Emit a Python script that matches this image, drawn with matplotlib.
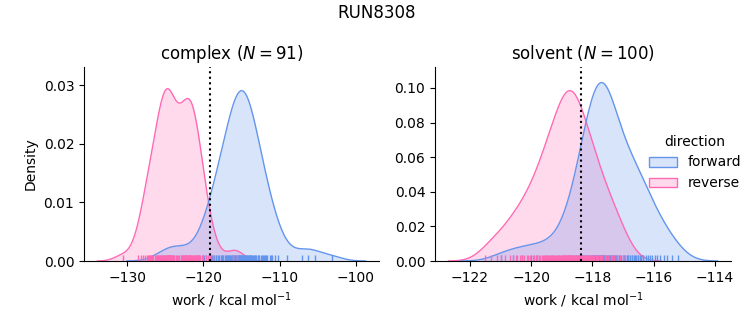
import numpy as np
import matplotlib
matplotlib.use('Agg')
import matplotlib.pyplot as plt
from matplotlib.patches import Patch
import seaborn as sns

run_name = 'RUN8308'
n_runs = 100

complex_forward = [
    -125.6, -124.3, -123.8, -122.9, -121.7,
    -120.1, -119.6, -119.2, -118.9, -118.6, -118.3, -118.1, -117.9, -117.6, -117.4,
    -117.2, -117.0, -116.8, -116.7, -116.5, -116.3, -116.2, -116.0, -115.9, -115.8,
    -115.7, -115.5, -115.4, -115.3, -115.2, -115.1, -115.0, -114.9, -114.8, -114.7,
    -114.6, -114.5, -114.4, -114.3, -114.2, -114.0, -113.9, -113.8, -113.7, -113.5,
    -113.4, -113.2, -113.1, -112.9, -112.7, -112.5, -112.3, -112.1, -111.9, -111.6,
    -111.3, -111.0, -110.6, -110.2,
    -119.9, -119.0, -118.4, -117.7, -117.1, -116.6, -116.1, -115.6, -115.35, -115.05,
    -114.85, -114.55, -114.25, -113.95, -113.6, -113.3, -112.8, -112.2, -111.8, -111.1,
    -117.5, -116.9, -116.4, -115.85, -115.15, -114.65, -114.1,
    -109.1, -107.1, -106.3, -105.4, -103.2,
]
complex_reverse = [
    -130.6, -124.6, -128.6, -128.2, -127.9,
    -127.6, -127.4, -127.2, -127.0, -126.85, -126.7, -126.55, -126.4, -126.25, -126.1,
    -125.95, -125.8, -125.7, -125.6, -125.5, -125.4, -125.3, -125.2, -125.1, -125.0,
    -124.9, -124.82, -124.74, -124.66, -124.58, -124.5, -124.42, -124.34, -124.26, -124.18,
    -124.1, -124.0, -127.3, -123.8, -126.9, -123.6, -121.05, -123.4, -120.9, -123.2,
    -120.75, -123.0, -120.6, -122.8, -122.72, -122.64, -122.56, -122.48, -122.4, -122.32,
    -122.24, -122.16, -122.08, -122.0, -121.9, -121.8, -121.7, -121.6, -121.5, -121.4,
    -121.3, -121.2, -121.1, -121.0, -120.85, -120.7, -120.55, -120.4, -120.2, -120.0,
    -119.7, -119.4, -119.1, -118.7, -124.8,
    -124.7, -124.6, -122.35, -122.25, -125.25, -123.45, -121.75, -126.0, -124.45,
    -116.1, -115.6,
]
complex_delta_f = -119.2

solvent_forward = [
    -121.0, -120.6, -120.3, -120.0, -119.8, -119.5, -119.3, -119.1, -118.95, -118.8,
    -118.7, -118.6,
    -118.5, -118.45, -118.4, -118.35, -118.3, -118.25, -118.2, -118.15, -118.1, -118.05,
    -118.0, -117.96, -117.92, -117.88, -117.84, -117.8, -117.76, -117.72, -117.68, -117.64,
    -117.6, -117.55, -117.5, -117.45, -117.4, -117.35, -117.3, -117.24, -117.18, -117.12,
    -117.06, -117.0, -116.94, -116.88, -116.82, -116.76, -116.7, -116.64, -116.58, -116.52,
    -116.46, -116.4, -116.33, -116.26, -116.19, -116.12, -116.05, -115.97, -115.88, -115.78,
    -115.67, -115.55, -115.4, -115.2,
    -118.42, -118.32, -118.22, -118.12, -118.02, -117.98, -117.94, -117.9, -117.86, -117.82,
    -117.78, -117.74, -117.7, -117.66, -117.62, -117.58, -117.52, -117.47, -117.42, -117.37,
    -117.32, -117.27, -117.2, -117.1, -116.98, -116.85, -116.72, -116.6, -116.5, -116.36,
    -117.75, -117.7, -118.55, -117.65,
]
solvent_reverse = [
    -121.5, -121.3, -121.1, -121.0, -120.85, -120.7, -120.6, -120.45, -120.35, -120.25,
    -120.15, -120.05,
    -119.95, -119.85, -119.75, -119.7, -119.6, -119.55, -119.5, -119.45, -119.4, -119.35,
    -119.3, -119.25, -119.2, -119.15, -119.1, -119.05, -119.0, -118.97, -118.94, -118.9,
    -118.87, -118.84, -118.8, -118.77, -118.74, -118.7, -118.67, -118.64, -118.6, -118.57,
    -118.54, -118.5, -118.46, -118.42, -118.38, -118.34, -118.3, -118.25, -118.2, -118.15,
    -118.1, -118.05, -118.0, -117.94, -117.88, -117.82, -117.75, -117.68, -117.6, -117.5,
    -117.4, -117.3, -117.2, -117.1, -116.95, -118.9, -118.8, -118.75,
    -119.9, -119.65, -119.48, -119.32, -119.22, -119.12, -119.02, -118.92, -118.82, -118.72,
    -118.62, -118.52, -118.44, -118.36, -118.28, -118.18, -118.08, -117.98, -117.85, -117.72,
    -117.55, -117.35, -117.0, -118.65, -120.5, -120.3, -120.1, -119.8, -119.58, -119.42,
]
solvent_delta_f = -118.38

directions = ['forward', 'reverse']
colors = {'forward': 'cornflowerblue', 'reverse': 'hotpink'}
# density is given per kT while the axis is in kcal/mol
density_scale = 0.5


def kde(values, gridsize=200, cut=3):
    values = np.asarray(values)
    bw = values.std(ddof=1) * len(values) ** (-1 / 5)
    grid = np.linspace(values.min() - cut * bw, values.max() + cut * bw, gridsize)
    z = (grid[:, None] - values[None, :]) / bw
    dens = np.exp(-0.5 * z ** 2).sum(axis=1) / (len(values) * bw * np.sqrt(2 * np.pi))
    # common norm over all attempted runs in both directions
    return grid, dens * len(values) / (2 * n_runs) * density_scale


def plot_work(ax, works, delta_f, title, ymax):
    for d in directions[::-1]:
        x, y = kde(works[d])
        ax.fill_between(x, y, color=colors[d], alpha=0.25, lw=0)
        ax.plot(x, y, color=colors[d], lw=1)
    for d in directions:
        sns.rugplot(x=works[d], ax=ax, color=colors[d], height=0.03, lw=1)
    ax.axvline(delta_f, color='k', ls=':')
    ax.set_ylim(0, ymax)
    ax.set_title(title)
    ax.set_xlabel(r'work / kcal mol$^{-1}$')
    sns.despine(ax=ax)


fig = plt.figure(figsize=(7.53, 3.25), dpi=100)
ax1 = fig.add_axes([0.1116, 0.1969, 0.3918, 0.5969])
ax2 = fig.add_axes([0.5777, 0.1969, 0.3931, 0.5969])

plot_work(ax1, {'forward': complex_forward, 'reverse': complex_reverse}, complex_delta_f,
          r'complex ($N=%d$)' % len(complex_forward), 0.0331)
ax1.set_ylabel('Density')
plot_work(ax2, {'forward': solvent_forward, 'reverse': solvent_reverse}, solvent_delta_f,
          r'solvent ($N=%d$)' % len(solvent_forward), 0.1121)
ax2.yaxis.set_major_locator(plt.MultipleLocator(0.02))

handles = [Patch(facecolor=matplotlib.colors.to_rgba(colors[d], 0.25), edgecolor=colors[d], lw=1)
           for d in directions]
fig.legend(handles, directions, title='direction', frameon=False,
           loc='center left', bbox_to_anchor=(0.845, 0.50))
fig.suptitle(run_name, y=0.96, va='center')

fig.savefig('out.png', dpi=100)
